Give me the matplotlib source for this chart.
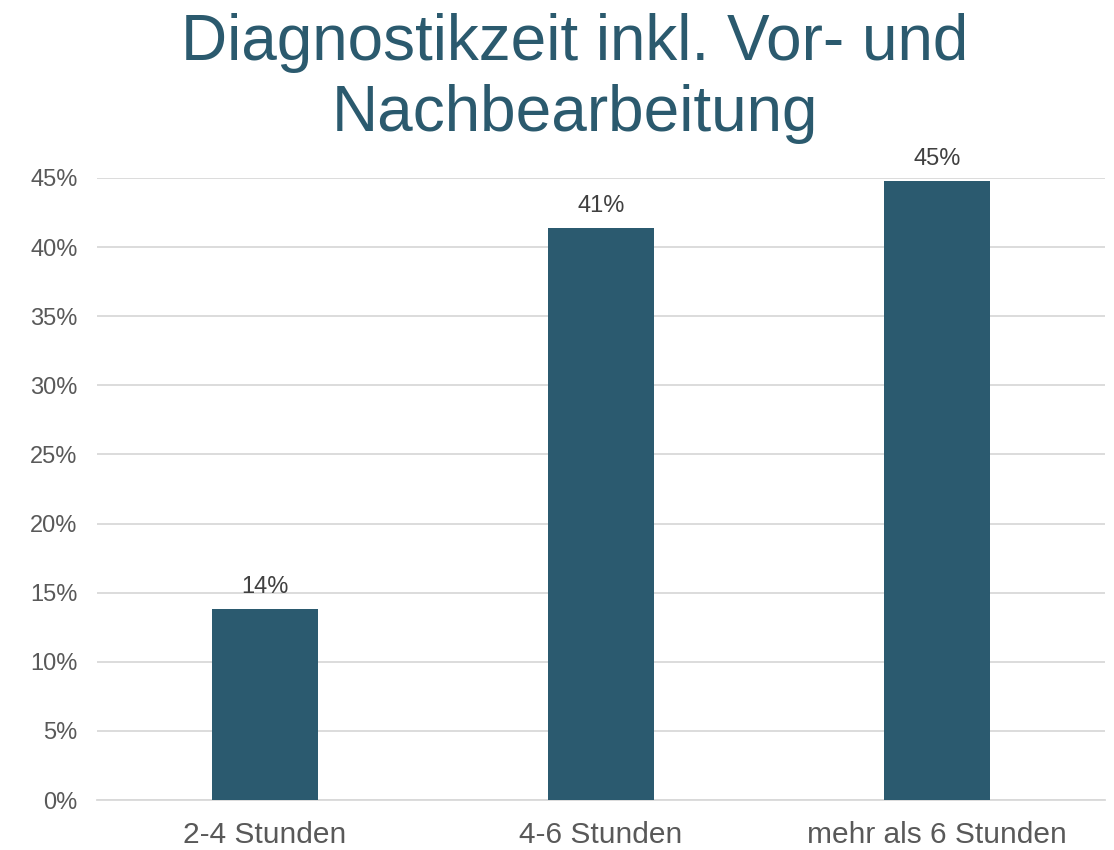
import matplotlib.pyplot as plt
from matplotlib.ticker import PercentFormatter

plt.rcParams['font.family'] = ['Liberation Sans', 'DejaVu Sans']

categories = ['2-4 Stunden', '4-6 Stunden', 'mehr als 6 Stunden']
shares = [0.138, 0.414, 0.448]
labels = ['14%', '41%', '45%']

bar_color = '#2B5A6F'
title_color = '#2B5A6E'

fig = plt.figure(figsize=(11.14, 8.5), dpi=100)
ax = fig.add_axes([0.0871, 0.0588, 0.9048, 0.7318])

bars = ax.bar(categories, shares, width=0.313, color=bar_color, zorder=3)
ax.bar_label(bars, labels=labels, padding=8, fontsize=17, color='#404040')

ax.set_ylim(0, 0.45)
ax.set_xlim(-0.5, 2.5)
ax.set_yticks([i * 0.05 for i in range(10)])
ax.yaxis.set_major_formatter(PercentFormatter(1.0, decimals=0))
ax.grid(axis='y', color='#D9D9D9', linewidth=1.3, zorder=0)
for s in ['top', 'right', 'left']:
    ax.spines[s].set_visible(False)
ax.spines['bottom'].set_color('#D9D9D9')
ax.spines['bottom'].set_linewidth(1.3)
ax.tick_params(axis='y', length=0, pad=14, labelsize=17, labelcolor='#595959')
ax.tick_params(axis='x', length=0, pad=15, labelsize=21.5, labelcolor='#595959')

fig.text(0.516, 0.985, 'Diagnostikzeit inkl. Vor- und\nNachbearbeitung', ha='center', va='top',
         fontsize=46, color=title_color, linespacing=1.25)

fig.savefig('out.png', dpi=100)
